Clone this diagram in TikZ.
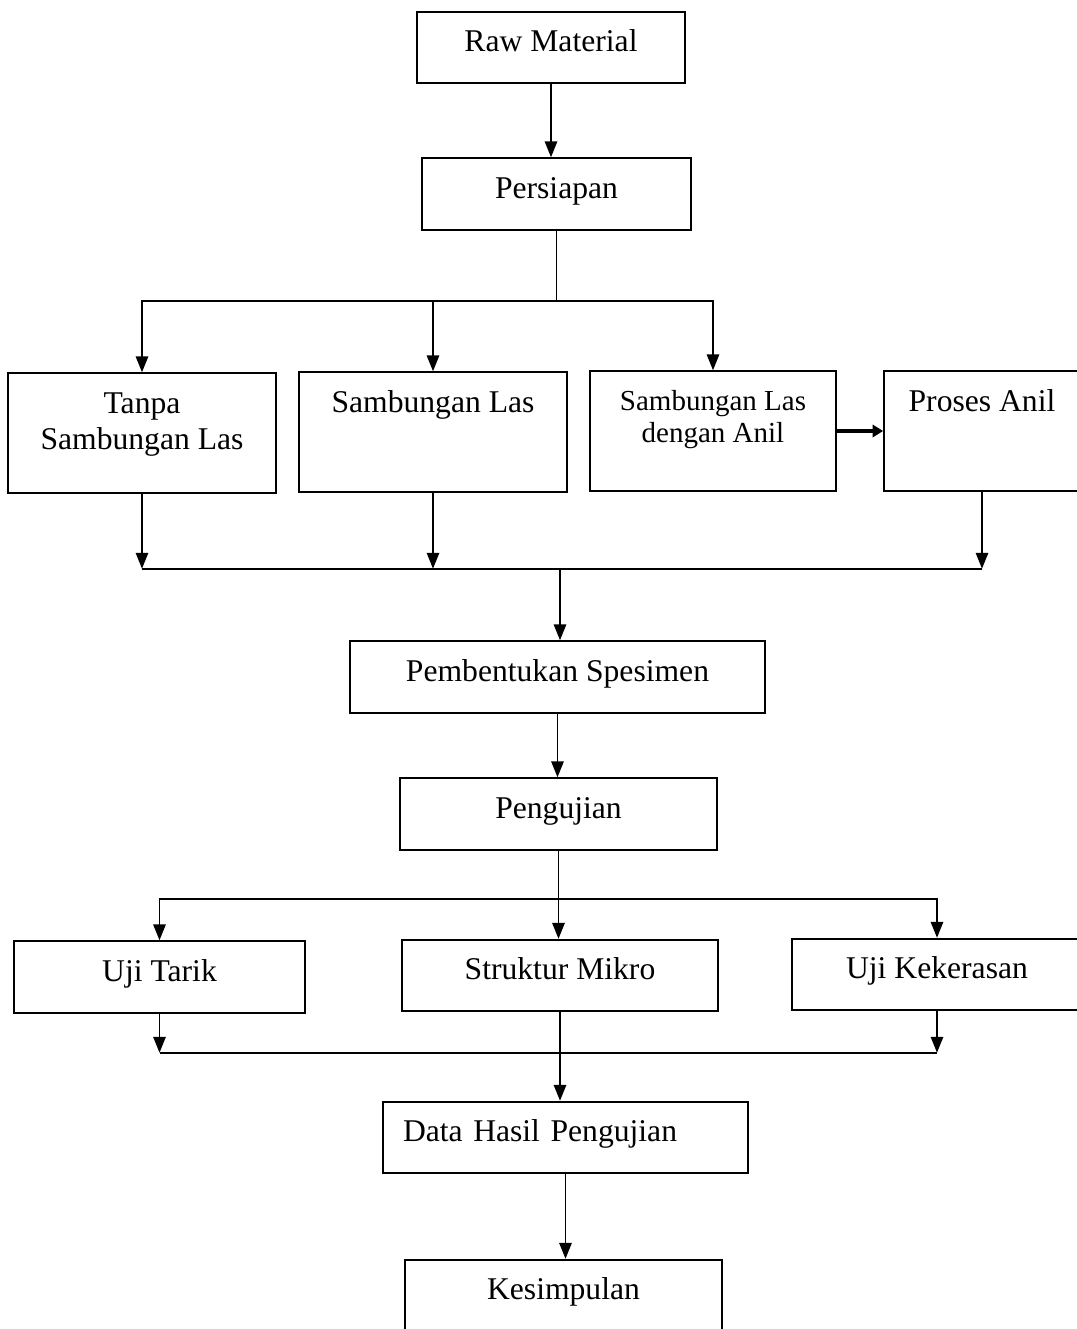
\documentclass[tikz,border=0pt]{standalone}
\usepackage{fontspec}
\setmainfont{Liberation Serif}
\usetikzlibrary{shapes.geometric, arrows.meta}
\tikzstyle{shortbox} = [rectangle, draw=black, line width=1pt, inner sep=0pt, text height=22.7pt, text depth=18.1pt, align=center, font=\fontsize{18}{21}\selectfont]
\tikzstyle{tallbox} = [rectangle, draw=black, line width=1pt, inner sep=0pt, text height=22.7pt, text depth=45.4pt, align=center, font=\fontsize{18}{21}\selectfont]
\tikzstyle{line} = [line width=1pt]
\tikzstyle{arrow} = [line width=1pt, -{Triangle[length=9pt, width=7pt]}]
\tikzstyle{boldarrow} = [line width=1.8pt, -{Triangle[length=6pt, width=7pt]}]

\begin{document}
\begin{tikzpicture}[node distance=1.5cm]
    \useasboundingbox (0,0) rectangle (21.54,-26.58);
    \clip (0,0) rectangle (21.54,-26.58);
    % Nodes
    \node (rawMaterial) [shortbox, minimum width=5.36cm] at (11.02,-0.95) {Raw Material};
    \node (persiapan) [shortbox, minimum width=5.38cm, node distance=2.93cm, below of=rawMaterial, xshift=0.11cm] {Persiapan};
    \node (sambunganLas) [tallbox, minimum width=5.36cm, node distance=4.76cm, below of=persiapan, xshift=-2.47cm] {Sambungan Las};
    \node (tanpaSambungan) [tallbox, minimum width=5.36cm, text height=43.7pt, text depth=24.4pt, node distance=5.82cm, left of=sambunganLas, yshift=-0.02cm] {Tanpa\\Sambungan Las};
    \node (sambunganAnil) [tallbox, minimum width=4.92cm, text height=40.6pt, text depth=27.5pt, node distance=5.6cm, right of=sambunganLas, yshift=0.02cm, font=\fontsize{16.5}{18.5}\selectfont] {Sambungan Las\\dengan Anil};
    \node (prosesAnil) [tallbox, minimum width=3.92cm, node distance=5.38cm, right of=sambunganAnil] {Proses Anil};
    \node (pembentukan) [shortbox, minimum width=8.3cm, node distance=9.66cm, below of=persiapan, xshift=0.02cm] {Pembentukan Spesimen};
    \node (pengujian) [shortbox, minimum width=6.34cm, node distance=2.74cm, below of=pembentukan, xshift=0.02cm] {Pengujian};
    \node (strukturMikro) [shortbox, minimum width=6.32cm, node distance=3.23cm, below of=pengujian, xshift=0.03cm] {Struktur Mikro};
    \node (ujiTarik) [shortbox, minimum width=5.82cm, node distance=8.01cm, left of=strukturMikro, yshift=-0.03cm] {Uji Tarik};
    \node (ujiKekerasan) [shortbox, minimum width=5.8cm, node distance=7.54cm, right of=strukturMikro, yshift=0.02cm] {Uji Kekerasan};
    \node (dataHasil) [shortbox, minimum width=7.3cm, text width=6.5cm, inner xsep=0.4cm, align=left, node distance=3.24cm, below of=strukturMikro, xshift=0.11cm] {Data Hasil Pengujian};
    \node (kesimpulan) [shortbox, minimum width=6.34cm, node distance=3.16cm, below of=dataHasil, xshift=-0.04cm] {Kesimpulan};
    \coordinate (joinTop) at ([yshift=-1.5cm]tanpaSambungan.south);
    \coordinate (joinBottom) at ([yshift=-0.78cm]ujiTarik.south);

    % Arrows
    \draw [arrow] (rawMaterial.south) -- (rawMaterial.south |- persiapan.north);
    \draw [arrow] (persiapan.south) -- ++(0,-1.4) -| (tanpaSambungan.north);
    \draw [arrow] (persiapan.south) -- ++(0,-1.4) -| (sambunganLas.north);
    \draw [arrow] (persiapan.south) -- ++(0,-1.4) -| (sambunganAnil.north);
    \draw [boldarrow] (sambunganAnil.east) -- (sambunganAnil.east -| prosesAnil.west);
    \draw [arrow] (tanpaSambungan.south) -- (joinTop);
    \draw [arrow] (sambunganLas.south) -- (sambunganLas.south |- joinTop);
    \draw [arrow] (prosesAnil.south) -- (prosesAnil.south |- joinTop);
    \draw [line] (joinTop) -- (prosesAnil.south |- joinTop);
    \draw [arrow] ([xshift=0.05cm]pembentukan.north |- joinTop) -- ([xshift=0.05cm]pembentukan.north);
    \draw [arrow] (pembentukan.south) -- (pembentukan.south |- pengujian.north);
    \draw [arrow] (pengujian.south) -- ++(0,-0.96) -| (ujiTarik.north);
    \draw [arrow] (pengujian.south) -- (pengujian.south |- strukturMikro.north);
    \draw [arrow] (pengujian.south) -- ++(0,-0.96) -| (ujiKekerasan.north);
    \draw [arrow] (ujiTarik.south) -- (joinBottom);
    \draw [arrow] (ujiKekerasan.south) -- (ujiKekerasan.south |- joinBottom);
    \draw [line] (joinBottom) -- (ujiKekerasan.south |- joinBottom);
    \draw [arrow] (strukturMikro.south) -- (strukturMikro.south |- dataHasil.north);
    \draw [arrow] (dataHasil.south) -- (dataHasil.south |- kesimpulan.north);
\end{tikzpicture}
\end{document}
